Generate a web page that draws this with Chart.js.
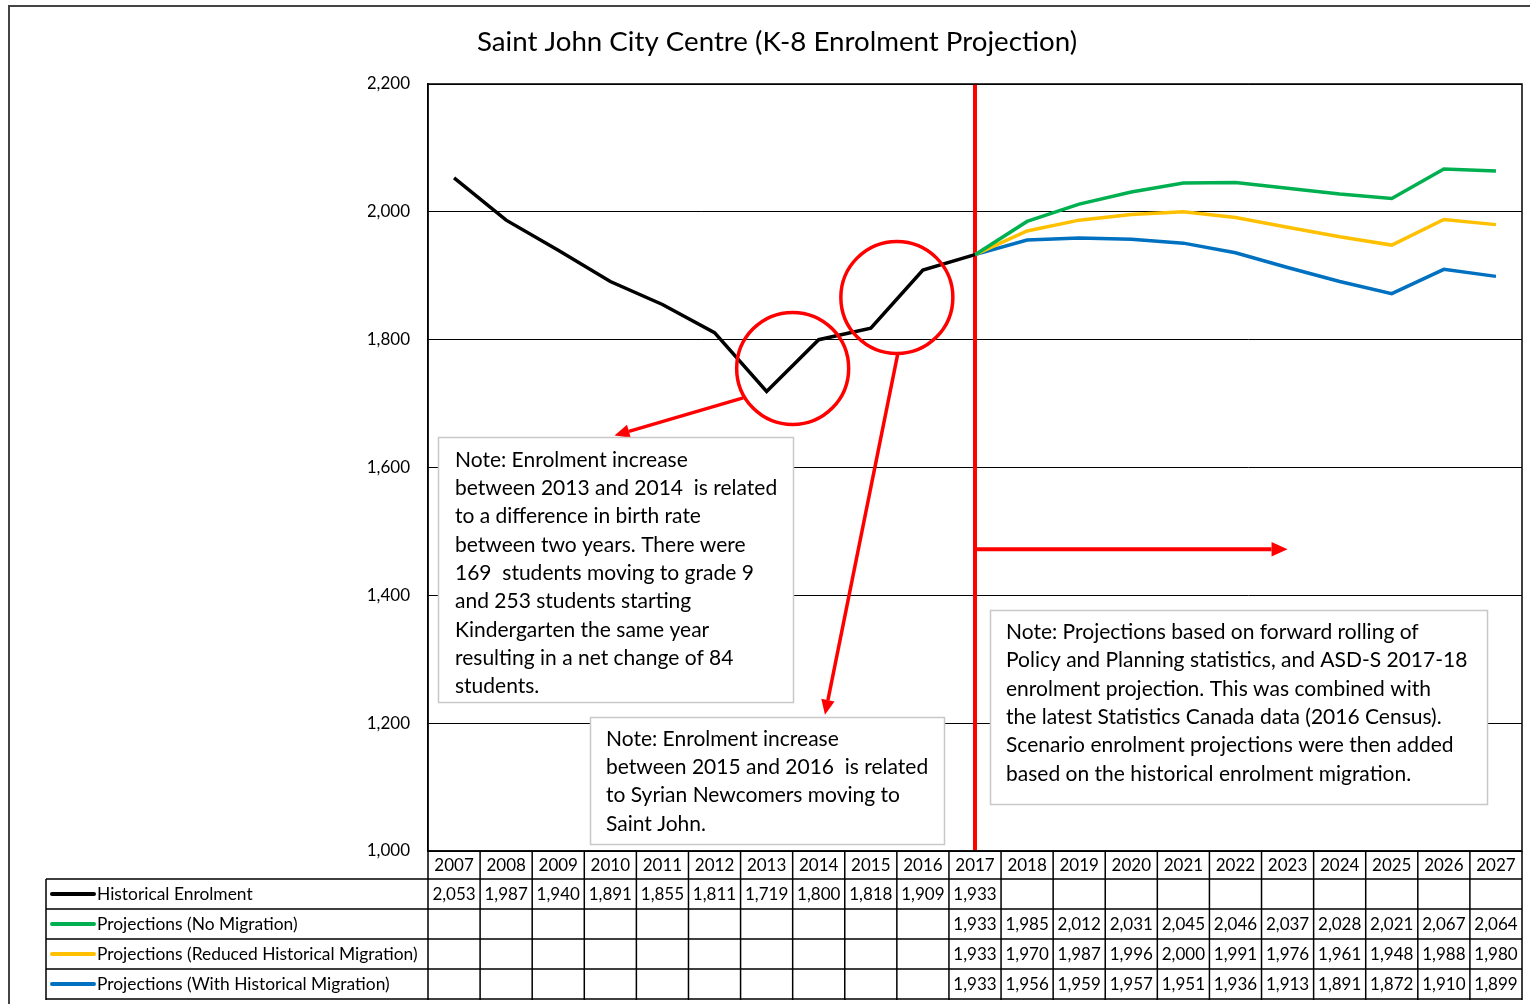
<!DOCTYPE html>
<html><head><meta charset="utf-8">
<script src="https://cdn.jsdelivr.net/npm/chart.js@4/dist/chart.umd.min.js"></script>
<style>html,body{margin:0;padding:0;background:#fff}#wrap{width:1530px;height:1004px;position:relative}</style>
</head><body><div id="wrap"><canvas id="c" width="1530" height="1004"></canvas></div>
<script>
const years = ['2007','2008','2009','2010','2011','2012','2013','2014','2015','2016','2017','2018','2019','2020','2021','2022','2023','2024','2025','2026','2027'];
const historical = [2053,1987,1940,1891,1855,1811,1719,1800,1818,1909,1933,null,null,null,null,null,null,null,null,null,null];
const noMigration = [null,null,null,null,null,null,null,null,null,null,1933,1985,2012,2031,2045,2046,2037,2028,2021,2067,2064];
const reducedMigration = [null,null,null,null,null,null,null,null,null,null,1933,1970,1987,1996,2000,1991,1976,1961,1948,1988,1980];
const withMigration = [null,null,null,null,null,null,null,null,null,null,1933,1956,1959,1957,1951,1936,1913,1891,1872,1910,1899];
const seriesNames = ['Historical Enrolment','Projections (No Migration)','Projections (Reduced Historical Migration)','Projections (With Historical Migration)'];
const seriesColors = ['#000000','#00B050','#FFC000','#0070C0'];
const yMin = 1000, yMax = 2200, yStep = 200;
const titleText = 'Saint John City Centre (K-8 Enrolment Projection)';
const note1 = ['Note: Enrolment increase','between 2013 and 2014  is related','to a difference in birth rate','between two years. There were','169  students moving to grade 9','and 253 students starting','Kindergarten the same year','resulting in a net change of 84','students.'];
const note2 = ['Note: Enrolment increase','between 2015 and 2016  is related','to Syrian Newcomers moving to','Saint John.'];
const note3 = ['Note: Projections based on forward rolling of','Policy and Planning statistics, and ASD-S 2017-18','enrolment projection. This was combined with','the latest Statistics Canada data (2016 Census).','Scenario enrolment projections were then added','based on the historical enrolment migration.'];

const FONT = 'Lato, "Liberation Sans", sans-serif';
const allSeries = [historical, noMigration, reducedMigration, withMigration];
const fmt = v => v == null ? '' : v.toLocaleString('en-US');

function arrow(ctx, x1, y1, x2, y2, color, lw, head) {
  ctx.save();
  ctx.strokeStyle = color; ctx.fillStyle = color; ctx.lineWidth = lw;
  const a = Math.atan2(y2 - y1, x2 - x1);
  const bx = x2 - head * Math.cos(a), by = y2 - head * Math.sin(a);
  ctx.beginPath(); ctx.moveTo(x1, y1); ctx.lineTo(bx, by); ctx.stroke();
  ctx.beginPath();
  ctx.moveTo(x2, y2);
  ctx.lineTo(bx + head * 0.45 * Math.sin(a), by - head * 0.45 * Math.cos(a));
  ctx.lineTo(bx - head * 0.45 * Math.sin(a), by + head * 0.45 * Math.cos(a));
  ctx.closePath(); ctx.fill();
  ctx.restore();
}

function noteBox(ctx, x, y, w, h, lines, tx, ty, lh) {
  ctx.save();
  ctx.fillStyle = '#fff'; ctx.fillRect(x, y, w, h);
  ctx.strokeStyle = '#c8c8c8'; ctx.lineWidth = 1.5; ctx.strokeRect(x + 0.5, y + 0.5, w, h);
  ctx.fillStyle = '#000'; ctx.font = '21px ' + FONT; ctx.textAlign = 'left'; ctx.textBaseline = 'middle';
  lines.forEach((l, i) => ctx.fillText(l, tx, ty + i * lh));
  ctx.restore();
}

const overlay = {
  id: 'overlay',
  beforeDatasetsDraw(chart) {
    const {ctx, chartArea: ca, scales: {x}} = chart;
    ctx.save();
    const xd = x.getPixelForValue(10);
    ctx.strokeStyle = '#FF0000'; ctx.lineWidth = 4;
    ctx.beginPath(); ctx.moveTo(xd, ca.top); ctx.lineTo(xd, ca.bottom); ctx.stroke();
    ctx.restore();
  },
  afterDatasetsDraw(chart) {
    const {ctx, chartArea: ca, scales: {x, y}} = chart;
    const red = '#FF0000';
    ctx.save();
    ctx.strokeStyle = '#000'; ctx.lineWidth = 1.5;
    ctx.strokeRect(ca.left, ca.top, ca.right - ca.left, ca.bottom - ca.top);
    ctx.restore();
    const xd = x.getPixelForValue(10);
    arrow(ctx, xd, y.getPixelForValue(1472), x.getPixelForValue(16), y.getPixelForValue(1472), red, 4, 16);
    ctx.save();
    ctx.strokeStyle = red; ctx.lineWidth = 3.5;
    const c1x = x.getPixelForValue(6.5), c1y = y.getPixelForValue(1755);
    const c2x = x.getPixelForValue(8.5), c2y = y.getPixelForValue(1866);
    ctx.beginPath(); ctx.arc(c1x, c1y, 56, 0, Math.PI * 2); ctx.stroke();
    ctx.beginPath(); ctx.arc(c2x, c2y, 56, 0, Math.PI * 2); ctx.stroke();
    ctx.restore();
    arrow(ctx, x.getPixelForValue(5.55), y.getPixelForValue(1709), x.getPixelForValue(3.08), y.getPixelForValue(1650), red, 3.5, 15);
    arrow(ctx, x.getPixelForValue(8.52), y.getPixelForValue(1779), x.getPixelForValue(7.12), y.getPixelForValue(1213), red, 3.5, 15);
    noteBox(ctx, 438, 437, 355, 265, note1, 455, 460, 28.3);
    noteBox(ctx, 590, 717, 354, 127, note2, 606, 739, 28.3);
    noteBox(ctx, 990, 610, 497, 194, note3, 1006, 632, 28.4);
  },
  afterDraw(chart) {
    const {ctx, chartArea: ca, scales: {x}} = chart;
    ctx.save();
    ctx.fillStyle = '#000'; ctx.font = '27.7px ' + FONT; ctx.textAlign = 'center'; ctx.textBaseline = 'middle';
    ctx.fillText(titleText, 777, 42);
    ctx.strokeStyle = '#444'; ctx.lineWidth = 2;
    ctx.beginPath(); ctx.moveTo(9, 1004); ctx.lineTo(9, 6); ctx.lineTo(1530, 6); ctx.stroke();
    const top = ca.bottom, headH = 28, rowH = 30;
    const legLeft = 46;
    const n = years.length;
    const colEdge = i => x.getPixelForValue(i - 0.5);
    const rowsBottom = top + headH + rowH * 4 + 1;
    ctx.strokeStyle = '#000'; ctx.lineWidth = 1.5;
    ctx.beginPath();
    for (let r = 0; r <= 4; r++) {
      const yy = Math.min(top + headH + r * rowH, rowsBottom);
      ctx.moveTo(legLeft, yy); ctx.lineTo(ca.right, yy);
    }
    ctx.moveTo(ca.left, top); ctx.lineTo(ca.right, top);
    for (let i = 0; i <= n; i++) {
      const xx = colEdge(i);
      ctx.moveTo(xx, top); ctx.lineTo(xx, rowsBottom);
    }
    ctx.moveTo(legLeft, top + headH); ctx.lineTo(legLeft, rowsBottom);
    ctx.stroke();
    ctx.font = '17px ' + FONT; ctx.textAlign = 'center'; ctx.textBaseline = 'middle'; ctx.fillStyle = '#000';
    years.forEach((yr, i) => ctx.fillText(yr, x.getPixelForValue(i), top + headH / 2 + 1));
    allSeries.forEach((arr, r) => {
      const cy = top + headH + r * rowH + rowH / 2 + 1;
      ctx.textAlign = 'center';
      arr.forEach((v, i) => { if (v != null) ctx.fillText(fmt(v), x.getPixelForValue(i), cy); });
      ctx.save();
      ctx.strokeStyle = seriesColors[r]; ctx.lineWidth = 4; ctx.lineCap = 'round';
      ctx.beginPath(); ctx.moveTo(52, cy - 1); ctx.lineTo(94, cy - 1); ctx.stroke();
      ctx.restore();
      ctx.textAlign = 'left'; ctx.font = '17.4px ' + FONT;
      ctx.fillText(seriesNames[r], 97, cy - 1);
      ctx.font = '17px ' + FONT;
    });
    ctx.restore();
  }
};

new Chart(document.getElementById('c'), {
  type: 'line',
  data: {
    labels: years,
    datasets: allSeries.map((d, i) => ({
      label: seriesNames[i], data: d, borderColor: seriesColors[i], backgroundColor: seriesColors[i],
      borderWidth: 3.5, pointRadius: 0, tension: 0, spanGaps: false, order: i
    }))
  },
  options: {
    responsive: false, animation: false, devicePixelRatio: 1,
    layout: { padding: { left: 368, right: 8, top: 84, bottom: 153 } },
    plugins: { legend: { display: false }, title: { display: false }, tooltip: { enabled: false } },
    scales: {
      x: { type: 'category', offset: true, display: false },
      y: {
        min: yMin, max: yMax,
        afterFit: s => { s.width = 60; },
        ticks: { stepSize: yStep, padding: 18, color: '#000', font: { family: FONT, size: 17 },
          callback: v => v.toLocaleString('en-US') },
        grid: { color: '#000', lineWidth: 1, drawTicks: false },
        border: { display: true, color: '#000', width: 1.5 }
      }
    }
  },
  plugins: [overlay]
});
</script></body></html>
